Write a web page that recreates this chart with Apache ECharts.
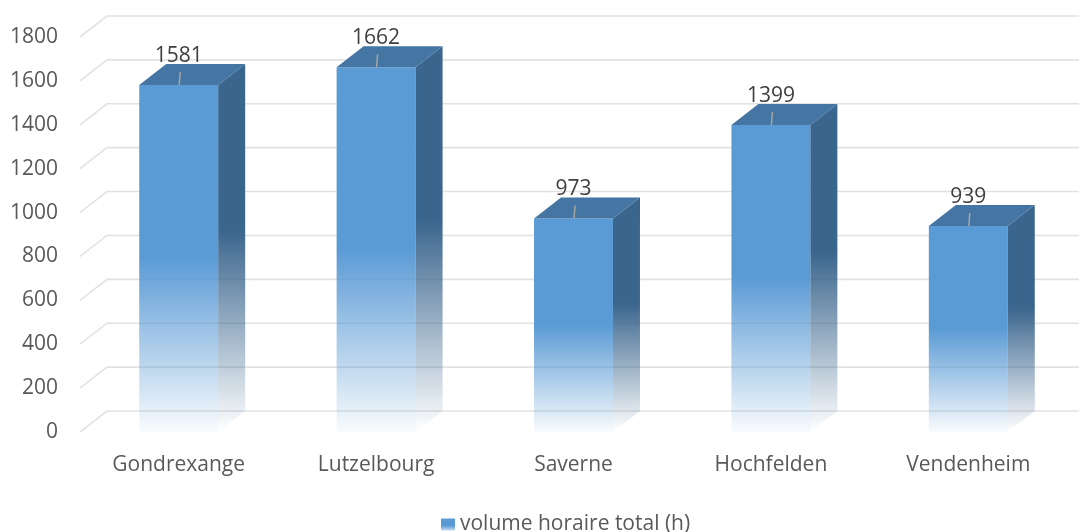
<!DOCTYPE html>
<html>
<head>
<meta charset="utf-8">
<script src="https://cdn.jsdelivr.net/npm/echarts@6/dist/echarts.min.js"></script>
<style>
  html, body { margin: 0; padding: 0; background: #fff; }
  #chart { width: 1079px; height: 532px; }
</style>
</head>
<body>
<div id="chart"></div>
<script>
// data
var categories = ['Gondrexange', 'Lutzelbourg', 'Saverne', 'Hochfelden', 'Vendenheim']
var values = [1581, 1662, 973, 1399, 939]
var yTicks = [0, 200, 400, 600, 800, 1000, 1200, 1400, 1600, 1800]
var seriesName = 'volume horaire total (h)'

// 3d depth of the walls and the bars, in pixels
var DX = 27
var DY = -21
var FONT = 'Open Sans'

function fade(r, g, b, a, mid) {
  return new echarts.graphic.LinearGradient(0, 0, 0, 1, [
    { offset: 0, color: 'rgb(' + r + ',' + g + ',' + b + ')' },
    { offset: mid, color: 'rgb(' + r + ',' + g + ',' + b + ')' },
    { offset: 1, color: 'rgba(' + r + ',' + g + ',' + b + ',' + a + ')' }
  ])
}

function renderWall(params, api) {
  var cs = params.coordSys
  var y = api.coord([0, api.value(1)])[1]
  var x0 = cs.x
  return {
    type: 'polyline',
    shape: { points: [[x0, y], [x0 + DX, y + DY], [cs.x + cs.width + DX + 20, y + DY]] },
    style: { stroke: '#E2E2E2', lineWidth: 1.6, fill: null },
    silent: true
  }
}

function renderBar(params, api) {
  var idx = api.value(0)
  var val = api.value(1)
  var top = api.coord([idx, val])
  var base = api.coord([idx, 0])
  var bw = api.size([1, 0])[0] * 0.4
  var xl = top[0] - bw / 2
  var xr = top[0] + bw / 2
  var yt = top[1]
  var yb = base[1]
  return {
    type: 'group',
    children: [
      {
        type: 'rect',
        shape: { x: xl, y: yt, width: bw, height: yb - yt },
        style: { fill: fade(91, 155, 213, 0.04, 0.5) }
      },
      {
        type: 'polygon',
        shape: { points: [[xr, yt], [xr + DX, yt + DY], [xr + DX, yb + DY], [xr, yb]] },
        style: { fill: fade(58, 101, 141, 0, 0.45) }
      },
      {
        type: 'polygon',
        shape: { points: [[xl, yt], [xr, yt], [xr + DX, yt + DY], [xl + DX, yt + DY]] },
        style: { fill: '#4475A3' }
      },
      {
        type: 'line',
        shape: { x1: top[0] + 0.5, y1: yt, x2: top[0] + 1.5, y2: yt - 13 },
        style: { stroke: '#A6A6A6', lineWidth: 1.5 }
      },
      {
        type: 'text',
        x: top[0],
        y: yt - 29,
        style: {
          text: String(val),
          fill: '#404040',
          font: '21px "' + FONT + '"',
          align: 'center',
          verticalAlign: 'middle'
        }
      }
    ]
  }
}

var chart = echarts.init(document.getElementById('chart'))
var option = {
  animation: false,
  backgroundColor: '#fff',
  textStyle: { fontFamily: FONT },
  grid: { left: 80, right: 12, top: 37, bottom: 100 },
  legend: {
    data: [seriesName],
    top: 509,
    left: 436,
    icon: 'rect',
    itemWidth: 14,
    itemHeight: 12,
    itemGap: 6,
    textStyle: { color: '#595959', fontSize: 21, fontFamily: FONT }
  },
  xAxis: {
    type: 'category',
    data: categories,
    axisLine: { show: false },
    axisTick: { show: false },
    axisLabel: { color: '#595959', fontSize: 21, margin: 23, fontFamily: FONT }
  },
  yAxis: {
    type: 'value',
    min: 0,
    max: 1800,
    interval: 200,
    axisLine: { show: false },
    axisTick: { show: false },
    splitLine: { show: false },
    axisLabel: {
      color: '#595959',
      fontSize: 21,
      margin: 22,
      padding: [5, 0, 0, 0],
      fontFamily: FONT,
      formatter: function (v) { return String(v) }
    }
  },
  series: [
    {
      name: 'walls',
      type: 'custom',
      renderItem: renderWall,
      data: yTicks.map(function (v) { return [0, v] }),
      encode: { x: 0, y: 1 },
      clip: false,
      silent: true,
      z: 1
    },
    {
      name: seriesName,
      type: 'custom',
      renderItem: renderBar,
      data: values.map(function (v, i) { return [i, v] }),
      encode: { x: 0, y: 1 },
      clip: false,
      z: 2,
      itemStyle: {
        color: new echarts.graphic.LinearGradient(0, 0, 0, 1, [
          { offset: 0, color: '#5B9BD5' },
          { offset: 0.6, color: '#5B9BD5' },
          { offset: 1, color: '#C9DDF1' }
        ])
      }
    }
  ]
}
chart.setOption(option)
</script>
</body>
</html>
